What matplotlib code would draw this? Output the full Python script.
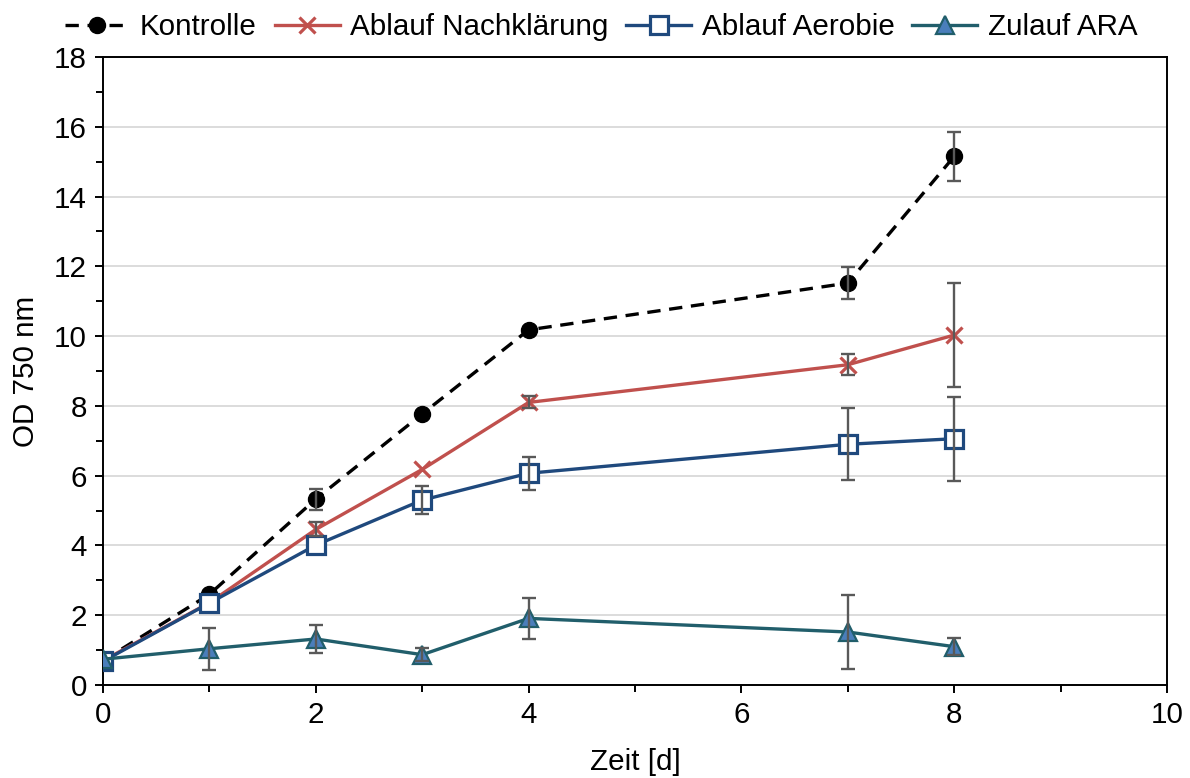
import matplotlib
matplotlib.use("Agg")
import matplotlib.pyplot as plt
from matplotlib.ticker import MultipleLocator

plt.rcParams['font.family'] = ['Liberation Sans', 'DejaVu Sans']

days = [0, 1, 2, 3, 4, 7, 8]

kontrolle = [0.70, 2.60, 5.33, 7.77, 10.18, 11.52, 15.15]
kontrolle_err = [0.0, 0.0, 0.30, 0.0, 0.0, 0.45, 0.71]

nachklaerung = [0.70, 2.36, 4.46, 6.18, 8.10, 9.18, 10.03]
nachklaerung_err = [0.0, 0.0, 0.20, 0.0, 0.17, 0.30, 1.50]

aerobie = [0.68, 2.35, 4.01, 5.30, 6.07, 6.90, 7.06]
aerobie_err = [0.0, 0.0, 0.0, 0.40, 0.48, 1.03, 1.20]

zulauf = [0.74, 1.04, 1.32, 0.87, 1.91, 1.52, 1.10]
zulauf_err = [0.0, 0.60, 0.40, 0.18, 0.58, 1.06, 0.25]

labels = ["Kontrolle", "Ablauf Nachklärung", "Ablauf Aerobie", "Zulauf ARA"]

fig = plt.figure(figsize=(11.9, 7.78), dpi=100)
ax = fig.add_axes([0.0866, 0.1195, 0.894, 0.8072])

fs = 21.3
err_color = '#595959'
lw = 2.4

ax.plot(days, kontrolle, color='black', linestyle=(0, (4, 2.6)), linewidth=lw,
        marker='o', markersize=11.5, markerfacecolor='black', markeredgecolor='black',
        label=labels[0], zorder=3)
ax.plot(days, nachklaerung, color='#C0504D', linewidth=lw,
        marker='x', markersize=11, markeredgewidth=2.3, label=labels[1], zorder=4)
ax.plot(days, aerobie, color='#1F497D', linewidth=lw,
        marker='s', markersize=12.5, markerfacecolor='white', markeredgecolor='#1F497D',
        markeredgewidth=2.3, label=labels[2], zorder=5)
ax.plot(days, zulauf, color='#215E6B', linewidth=lw,
        marker='^', markersize=12.5, markerfacecolor='#4A7EBB', markeredgecolor='#215E6B',
        markeredgewidth=1.6, label=labels[3], zorder=6)

for vals, errs in [(kontrolle, kontrolle_err), (nachklaerung, nachklaerung_err),
                   (aerobie, aerobie_err), (zulauf, zulauf_err)]:
    xs = [d for d, e in zip(days, errs) if e > 0]
    ys = [v for v, e in zip(vals, errs) if e > 0]
    es = [e for e in errs if e > 0]
    ax.errorbar(xs, ys, yerr=es, fmt='none', ecolor=err_color,
                elinewidth=1.7, capsize=5, capthick=1.7, zorder=7)

ax.set_xlim(0, 10)
ax.set_ylim(0, 18)
ax.xaxis.set_major_locator(MultipleLocator(2))
ax.xaxis.set_minor_locator(MultipleLocator(1))
ax.yaxis.set_major_locator(MultipleLocator(2))
ax.yaxis.set_minor_locator(MultipleLocator(1))

ax.grid(axis='y', which='major', color='#D9D9D9', linewidth=1.3, zorder=0)
ax.set_axisbelow(True)

for s in ax.spines.values():
    s.set_linewidth(1.4)
    s.set_color('black')

ax.tick_params(axis='both', which='major', direction='out', length=5.5, width=1.4,
               labelsize=fs, pad=6, color='black')
ax.tick_params(axis='both', which='minor', direction='out', length=5, width=1.4,
               color='black')

ax.set_xlabel("Zeit [d]", fontsize=fs, labelpad=14)
ax.set_ylabel("OD 750 nm", fontsize=fs, labelpad=10)

fig.legend(loc='center', bbox_to_anchor=(0.505, 0.965), ncol=4, frameon=False,
           fontsize=fs, handlelength=2.2, handletextpad=0.35, columnspacing=0.6,
           borderaxespad=0)

fig.savefig("out.png", dpi=100)
